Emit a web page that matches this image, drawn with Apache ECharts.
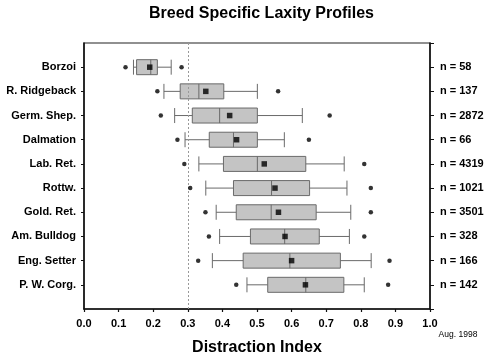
<!DOCTYPE html>
<html>
<head>
<meta charset="utf-8">
<script src="https://cdn.jsdelivr.net/npm/echarts@6/dist/echarts.min.js"></script>
<style>html,body{margin:0;padding:0;background:#fff}#c{width:500px;height:358px}</style>
</head>
<body>
<div id="c"></div>
<script>
const breeds = ['Borzoi','R. Ridgeback','Germ. Shep.','Dalmation','Lab. Ret.','Rottw.','Gold. Ret.','Am. Bulldog','Eng. Setter','P. W. Corg.'];
const nCounts = [58,137,2872,66,4319,1021,3501,328,166,142];
const whiskerLow  = [0.143,0.231,0.262,0.292,0.332,0.352,0.382,0.392,0.371,0.471];
const q1          = [0.152,0.278,0.313,0.362,0.403,0.432,0.440,0.481,0.460,0.531];
const median      = [0.193,0.332,0.392,0.432,0.501,0.542,0.541,0.580,0.595,0.641];
const q3          = [0.212,0.404,0.501,0.501,0.641,0.652,0.671,0.680,0.741,0.751];
const whiskerHigh = [0.252,0.501,0.631,0.579,0.752,0.760,0.771,0.767,0.830,0.810];
const means       = [0.190,0.352,0.421,0.441,0.521,0.552,0.562,0.581,0.600,0.640];
const outLow      = [0.120,0.212,0.222,0.270,0.290,0.307,0.351,0.361,0.330,0.440];
const outHigh     = [0.282,0.561,0.710,0.650,0.810,0.829,0.829,0.810,0.883,0.879];
const xTicks = [0,0.1,0.2,0.3,0.4,0.5,0.6,0.7,0.8,0.9,1.0];
const refLine = 0.3;

const FONT = 'Liberation Sans, Arial, sans-serif';
const cats = [''].concat(breeds, ['']);
const nLabels = [''].concat(nCounts.map(n => 'n = ' + n), ['']);
const blank = ['-','-','-','-','-'];
const boxData = [blank].concat(breeds.map((b,i) => [whiskerLow[i], q1[i], median[i], q3[i], whiskerHigh[i]]), [blank]);
const meanData = means.map((m,i) => [m, i+1]);
const outData = [];
breeds.forEach((b,i) => { outData.push([outLow[i], i+1]); outData.push([outHigh[i], i+1]); });

const chart = echarts.init(document.getElementById('c'), null, {renderer:'canvas'});
chart.setOption({
  animation: false,
  backgroundColor: '#fff',
  title: {
    text: 'Breed Specific Laxity Profiles',
    left: 256.5, top: 1, textAlign: 'center',
    textStyle: {fontFamily: FONT, fontSize: 16, fontWeight: 'bold', color: '#000'}
  },
  grid: {left: 84, right: 70, top: 43, bottom: 49, containLabel: false, outerBoundsMode: 'none',
         show: true, borderColor: '#222', borderWidth: 1.2, backgroundColor: 'transparent'},
  xAxis: {
    type: 'value', min: 0, max: 1, interval: 0.1,
    splitLine: {show: false},
    axisLine: {show: true, lineStyle: {color: '#111', width: 1.5}},
    axisTick: {show: true, length: 3, lineStyle: {color: '#111', width: 1.2}},
    axisLabel: {formatter: v => v.toFixed(1), fontFamily: FONT, fontSize: 11, fontWeight: 'bold', color: '#000', margin: 9},
    name: 'Distraction Index', nameLocation: 'middle', nameGap: 31,
    nameTextStyle: {fontFamily: FONT, fontSize: 16, fontWeight: 'bold', color: '#000'}
  },
  yAxis: [{
    type: 'category', data: cats, inverse: true, boundaryGap: false, position: 'left',
    axisLine: {show: true, lineStyle: {color: '#111', width: 1.5}},
    axisTick: {show: true, length: 3, interval: (idx) => idx > 0 && idx < cats.length - 1, lineStyle: {color: '#111'}},
    axisLabel: {interval: 0, fontFamily: FONT, fontSize: 11, fontWeight: 'bold', color: '#000', margin: 8},
    splitLine: {show: false}
  }, {
    type: 'category', data: nLabels, inverse: true, boundaryGap: false, position: 'right',
    axisLine: {show: true, lineStyle: {color: '#111', width: 1.5}},
    axisTick: {show: true, length: 4, interval: 0, lineStyle: {color: '#111'}},
    axisLabel: {interval: 0, fontFamily: FONT, fontSize: 11, fontWeight: 'bold', color: '#000', margin: 10},
    splitLine: {show: false}
  }],
  graphic: [{
    type: 'text', x: 458, y: 335,
    style: {text: 'Aug. 1998', fill: '#000', font: '8.5px ' + FONT, textAlign: 'center', textVerticalAlign: 'middle'}
  }],
  series: [{
    type: 'boxplot', yAxisIndex: 0,
    data: boxData,
    boxWidth: [15, 15],
    itemStyle: {color: '#c4c4c4', borderColor: '#6a6a6a', borderWidth: 1},
    silent: true,
    markLine: {
      silent: true, symbol: 'none', label: {show: false},
      lineStyle: {color: '#999', type: [2, 2], width: 1},
      data: [{xAxis: refLine}]
    },
    z: 2
  }, {
    type: 'scatter', yAxisIndex: 0, data: meanData,
    symbol: 'rect', symbolSize: 5.5, itemStyle: {color: '#000'}, z: 5, silent: true
  }, {
    type: 'scatter', yAxisIndex: 0, data: outData,
    symbol: 'circle', symbolSize: 4.5, itemStyle: {color: '#000'}, z: 5, silent: true
  }]
});
</script>
</body>
</html>
